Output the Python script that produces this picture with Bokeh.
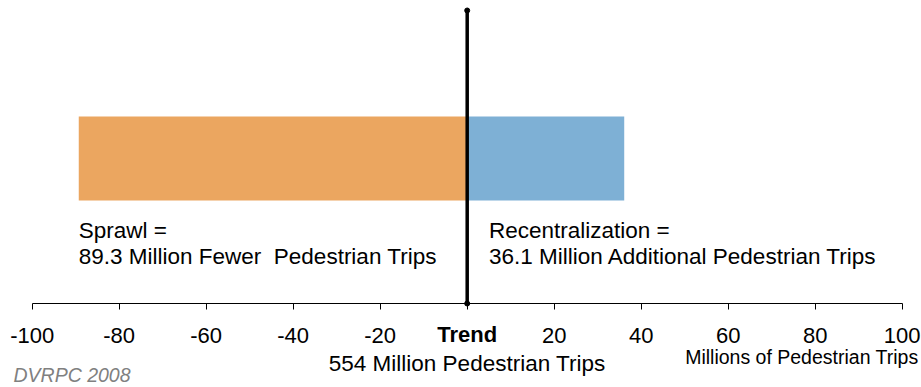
from bokeh.plotting import figure
from bokeh.models import Range1d, FixedTicker, Label
from bokeh.embed import file_html
from bokeh.resources import INLINE

# ---- data ----
scenarios = ["Sprawl", "Recentralization"]
changes = [-89.3, 36.1]          # millions of pedestrian trips vs. trend
bar_colors = ["#EBA660", "#7EB0D5"]
trend_total = 554
tick_values = [-100, -80, -60, -40, -20, 0, 20, 40, 60, 80, 100]
tick_labels = {t: str(t) for t in tick_values}
tick_labels[0] = ""

FONT = "Liberation Sans"

p = figure(width=921, height=387, output_backend="svg", toolbar_location=None,
           x_range=Range1d(-107.29, 104.44), y_range=Range1d(-0.2772, 1),
           y_axis_type=None, min_border_left=0, min_border_right=0,
           min_border_top=0, min_border_bottom=0)
p.outline_line_color = None
p.grid.visible = False
p.background_fill_color = "white"

# bars
bar_lefts = [min(c, 0) for c in changes]
bar_rights = [max(c, 0) for c in changes]
p.quad(left=bar_lefts, right=bar_rights, bottom=0.3399, top=0.6172,
       fill_color=bar_colors, line_color=None)

# trend (zero) line
p.segment(x0=[0], y0=[0], x1=[0], y1=[0.967], line_color="black", line_width=3.5)
p.scatter(x=[0, 0], y=[0, 0.967], size=5, color="black")

# axis, crossing at y = 0, spanning -100..100
ax = p.xaxis[0]
ax.fixed_location = 0
ax.bounds = (tick_values[0], tick_values[-1])
ax.ticker = FixedTicker(ticks=tick_values)
ax.major_label_overrides = tick_labels
ax.axis_line_color = "black"
ax.axis_line_width = 1
ax.major_tick_in = 0
ax.major_tick_out = 6
ax.minor_tick_line_color = None
ax.major_tick_line_color = "black"
ax.major_label_text_font = FONT
ax.major_label_text_font_size = "22px"
ax.major_label_text_color = "black"
ax.major_label_standoff = 18

def lab(x, y, text, size="22.5px", align="left", style="normal", color="black"):
    p.add_layout(Label(x=x, y=y, text=text, text_font=FONT, text_font_size=size,
                       text_align=align, text_baseline="alphabetic",
                       text_font_style=style, text_color=color))

lab(changes[0], 0.2409, f"{scenarios[0]} =")
lab(changes[0], 0.1551, f"{abs(changes[0])} Million Fewer \u00a0Pedestrian Trips")
lab(5, 0.2409, f"{scenarios[1]} =")
lab(5, 0.1551, f"{changes[1]} Million Additional Pedestrian Trips")
lab(0, -0.1023, "Trend", size="22px", align="center", style="bold")
lab(0, -0.1980, f"{trend_total} Million Pedestrian Trips", align="center")
lab(103.75, -0.1749, "Millions of Pedestrian Trips", size="19.5px", align="right")
lab(-104.3, -0.2343, "DVRPC 2008", size="19.5px", style="italic", color="#808080")

open("out.html", "w").write(file_html(p, INLINE))
